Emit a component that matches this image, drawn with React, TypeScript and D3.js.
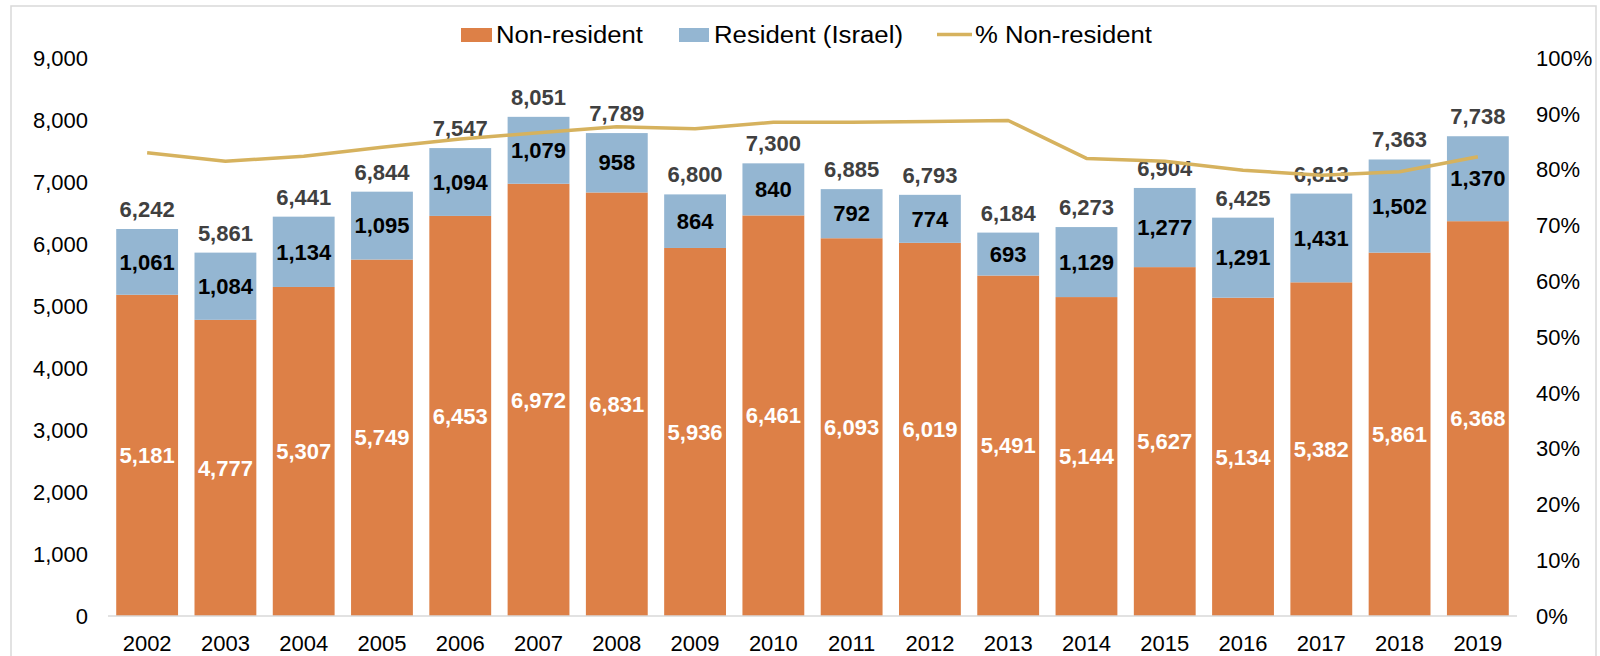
import React from "react";
import * as d3 from "d3";

const years = ["2002","2003","2004","2005","2006","2007","2008","2009","2010","2011","2012","2013","2014","2015","2016","2017","2018","2019"];
const nonResident = [5181,4777,5307,5749,6453,6972,6831,5936,6461,6093,6019,5491,5144,5627,5134,5382,5861,6368];
const resident = [1061,1084,1134,1095,1094,1079,958,864,840,792,774,693,1129,1277,1291,1431,1502,1370];
const totals = [6242,5861,6441,6844,7547,8051,7789,6800,7300,6885,6793,6184,6273,6904,6425,6813,7363,7738];
const pctNonResident = [83.0,81.5,82.4,84.0,85.5,86.6,87.7,87.3,88.5,88.5,88.6,88.8,82.0,81.5,79.9,79.0,79.6,82.3];
const leftTicks = [0,1000,2000,3000,4000,5000,6000,7000,8000,9000];
const rightTicks = [0,10,20,30,40,50,60,70,80,90,100];

const ORANGE = "#DD8047";
const BLUE = "#94B6D2";
const GOLD = "#D6B25E";
const FONT = "Liberation Sans, Arial, sans-serif";

export default function App() {
  const W = 1600, H = 656;
  const x0 = 108, x1 = 1517, yTop = 58, yBot = 616;
  const x = d3.scaleBand().domain(years).range([x0, x1]).paddingInner(0.21).paddingOuter(0.105);
  const y = d3.scaleLinear().domain([0, 9000]).range([yBot, yTop]);
  const yR = d3.scaleLinear().domain([0, 100]).range([yBot, yTop]);
  const fmt = d3.format(",");
  const line = d3.line<number>()
    .x((_, i) => (x(years[i]) as number) + x.bandwidth() / 2)
    .y((d) => yR(d));

  return (
    <svg width={W} height={H} style={{ position: "absolute", left: 0, top: 0, background: "#fff" }} fontFamily={FONT}>
      <rect x={11} y={6} width={1585} height={660} fill="#fff" stroke="#d9d9d9" strokeWidth={1.5} />
      {leftTicks.map((t) => (
        <text key={"l" + t} x={88} y={y(t)} dy="0.35em" textAnchor="end" fontSize={22} fill="#000">{fmt(t)}</text>
      ))}
      {rightTicks.map((t) => (
        <text key={"r" + t} x={1536} y={yR(t)} dy="0.35em" textAnchor="start" fontSize={22} fill="#000">{t + "%"}</text>
      ))}
      {years.map((yr, i) => {
        const bx = x(yr) as number;
        const bw = x.bandwidth();
        const cx = bx + bw / 2;
        const nTop = y(nonResident[i]);
        const rTop = y(nonResident[i] + resident[i]);
        return (
          <g key={yr}>
            <rect x={bx} y={nTop} width={bw} height={yBot - nTop} fill={ORANGE} />
            <rect x={bx} y={rTop} width={bw} height={nTop - rTop} fill={BLUE} />
            <text x={cx} y={(nTop + yBot) / 2} dy="0.35em" textAnchor="middle" fontSize={22} fontWeight="bold" fill="#fff">{fmt(nonResident[i])}</text>
            <text x={cx} y={(rTop + nTop) / 2} dy="0.35em" textAnchor="middle" fontSize={22} fontWeight="bold" fill="#000">{fmt(resident[i])}</text>
            <text x={cx} y={y(totals[i]) - 12} textAnchor="middle" fontSize={22} fontWeight="bold" fill="#404040">{fmt(totals[i])}</text>
            <text x={cx} y={643} dy="0.35em" textAnchor="middle" fontSize={22} fill="#000">{yr}</text>
          </g>
        );
      })}
      <line x1={x0} x2={x1} y1={yBot} y2={yBot} stroke="#d9d9d9" strokeWidth={1.5} />
      <path d={line(pctNonResident) || ""} fill="none" stroke={GOLD} strokeWidth={3.5} strokeLinejoin="round" />
      <g fontSize={23} fill="#000">
        <rect x={461} y={28} width={31} height={14} fill={ORANGE} />
        <text x={496} y={42.5} textLength={147} lengthAdjust="spacingAndGlyphs">Non-resident</text>
        <rect x={679} y={28} width={30} height={14} fill={BLUE} />
        <text x={714} y={42.5} textLength={189} lengthAdjust="spacingAndGlyphs">Resident (Israel)</text>
        <line x1={937} x2={972} y1={34.5} y2={34.5} stroke={GOLD} strokeWidth={3.5} />
        <text x={975} y={42.5} textLength={177} lengthAdjust="spacingAndGlyphs">% Non-resident</text>
      </g>
    </svg>
  );
}
